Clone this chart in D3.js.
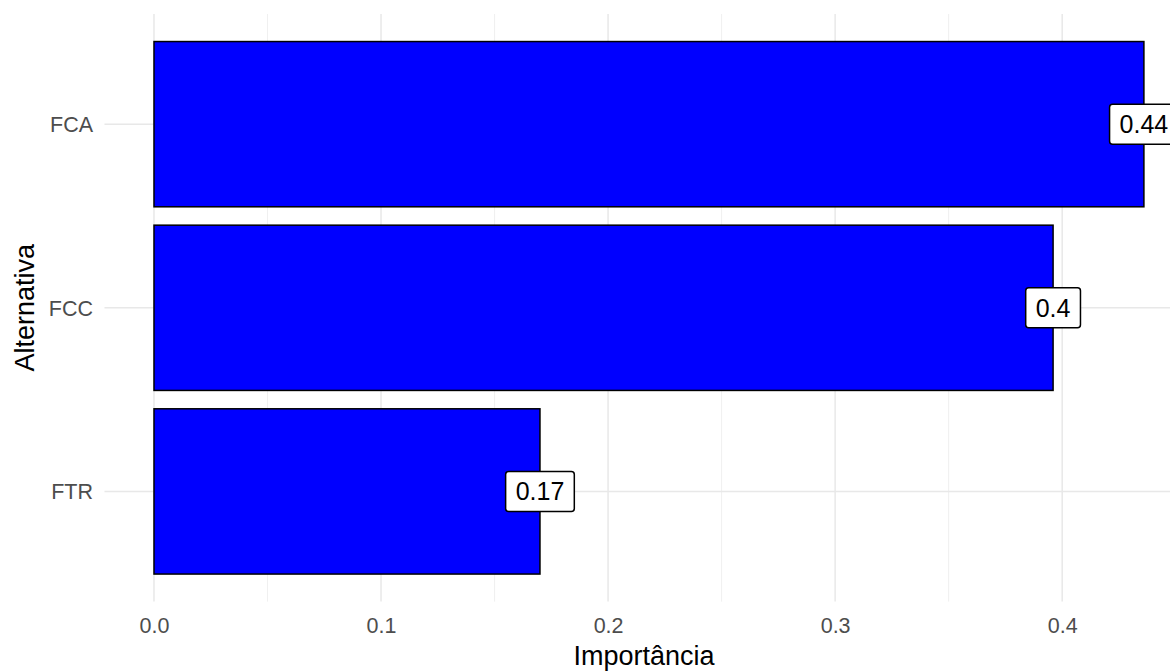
<!DOCTYPE html>
<html>
<head>
<meta charset="utf-8">
<script src="https://cdn.jsdelivr.net/npm/d3@7"></script>
<style>
  html, body { margin: 0; padding: 0; background: #fff; }
  svg { display: block; font-family: "Liberation Sans", Arial, sans-serif; }
</style>
</head>
<body>
<svg id="chart" width="1170" height="671"></svg>
<script>
// Alternatives and their importance weights
const categories = ["FCA", "FCC", "FTR"];
const importance = [0.436, 0.396, 0.17];
const xTicks = [0, 0.1, 0.2, 0.3, 0.4];
const xMinorTicks = [0.05, 0.15, 0.25, 0.35, 0.45];
const xTitle = "Importância";
const yTitle = "Alternativa";

const data = categories.map((c, i) => ({ cat: c, value: importance[i] }));

const svg = d3.select("#chart");
const panel = { left: 104.5, right: 1193.4, top: 14, bottom: 601.6 };

const x = d3.scaleLinear()
  .domain([-0.05 * d3.max(importance), 1.05 * d3.max(importance)])
  .range([panel.left, panel.right]);

const y = d3.scaleBand()
  .domain(categories)
  .range([panel.top, panel.bottom])
  .paddingInner(0.1)
  .paddingOuter(0.15);

const grid = svg.append("g");
// minor vertical gridlines
grid.selectAll("line.minor").data(xMinorTicks).join("line")
  .attr("x1", d => x(d)).attr("x2", d => x(d))
  .attr("y1", panel.top).attr("y2", panel.bottom)
  .attr("stroke", "#ebebeb").attr("stroke-width", 0.8);
// major vertical gridlines
grid.selectAll("line.majorx").data(xTicks).join("line")
  .attr("x1", d => x(d)).attr("x2", d => x(d))
  .attr("y1", panel.top).attr("y2", panel.bottom)
  .attr("stroke", "#e8e8e8").attr("stroke-width", 1.5);
// horizontal gridlines at each category
grid.selectAll("line.majory").data(categories).join("line")
  .attr("x1", panel.left).attr("x2", panel.right)
  .attr("y1", d => y(d) + y.bandwidth() / 2).attr("y2", d => y(d) + y.bandwidth() / 2)
  .attr("stroke", "#e8e8e8").attr("stroke-width", 1.5);

// bars
svg.append("g").selectAll("rect").data(data).join("rect")
  .attr("x", x(0))
  .attr("y", d => y(d.cat))
  .attr("width", d => x(d.value) - x(0))
  .attr("height", y.bandwidth())
  .attr("fill", "#0000ff")
  .attr("stroke", "#000")
  .attr("stroke-width", 1.5);

// x axis labels
const xAxis = d3.axisBottom(x).tickValues(xTicks).tickFormat(d3.format(".1f")).tickSize(0).tickPadding(0);
const gx = svg.append("g").attr("transform", `translate(0, 618)`).call(xAxis);
gx.select(".domain").remove();
gx.selectAll("text").attr("fill", "#4d4d4d").attr("font-size", 21.5)
  .attr("font-family", "Liberation Sans, Arial, sans-serif").attr("dy", "0.71em").attr("y", 0);

// y axis labels
const yAxis = d3.axisLeft(y).tickSize(0).tickPadding(0);
const gy = svg.append("g").attr("transform", `translate(93, 0)`).call(yAxis);
gy.select(".domain").remove();
gy.selectAll("text").attr("fill", "#4d4d4d").attr("font-size", 21.5)
  .attr("font-family", "Liberation Sans, Arial, sans-serif").attr("dy", "0.36em").attr("x", 0);

// axis titles
svg.append("text")
  .attr("x", (panel.left + panel.right) / 2 - 5).attr("y", 665)
  .attr("text-anchor", "middle").attr("font-size", 27).attr("fill", "#000")
  .text(xTitle);
svg.append("text")
  .attr("transform", `translate(34, ${(panel.top + panel.bottom) / 2}) rotate(-90)`)
  .attr("text-anchor", "middle").attr("font-size", 27).attr("fill", "#000")
  .text(yTitle);

// value labels centred on bar ends
const fmt = d3.format(".2~f");
const labels = svg.append("g").selectAll("g").data(data).join("g")
  .attr("transform", d => `translate(${x(d.value)}, ${y(d.cat) + y.bandwidth() / 2})`);
labels.append("text")
  .attr("text-anchor", "middle").attr("dy", "0.36em")
  .attr("font-size", 25).attr("fill", "#000")
  .text(d => fmt(d.value));
labels.each(function() {
  const g = d3.select(this);
  const w = g.select("text").node().getComputedTextLength() + 20;
  g.insert("rect", "text")
    .attr("x", -w / 2).attr("y", -20)
    .attr("width", w).attr("height", 40)
    .attr("rx", 3).attr("ry", 3)
    .attr("fill", "#fff").attr("stroke", "#000").attr("stroke-width", 1.5);
});
</script>
</body>
</html>
